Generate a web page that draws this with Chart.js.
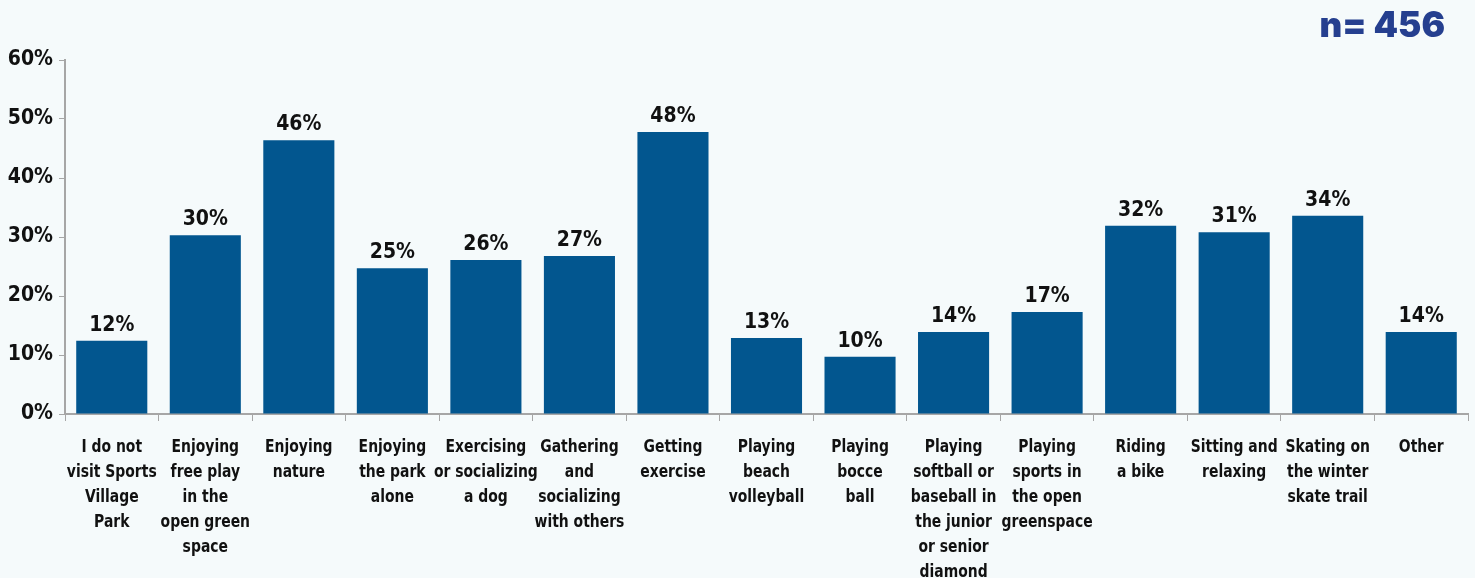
<!DOCTYPE html>
<html>
<head>
<meta charset="utf-8">
<script src="https://cdn.jsdelivr.net/npm/chart.js@4.4.1/dist/chart.umd.min.js"></script>
<style>
  html, body { margin: 0; padding: 0; background: #F5FAFB; }
  #wrap { width: 1475px; height: 578px; position: relative; }
</style>
</head>
<body>
<div id="wrap"><canvas id="chart" width="1475" height="578"></canvas></div>
<script>
// Activities at Sports Village Park (share of respondents, %)
const categories = [
  ['I do not', 'visit Sports', 'Village', 'Park'],
  ['Enjoying', 'free play', 'in the', 'open green', 'space'],
  ['Enjoying', 'nature'],
  ['Enjoying', 'the park', 'alone'],
  ['Exercising', 'or socializing', 'a dog'],
  ['Gathering', 'and', 'socializing', 'with others'],
  ['Getting', 'exercise'],
  ['Playing', 'beach', 'volleyball'],
  ['Playing', 'bocce', 'ball'],
  ['Playing', 'softball or', 'baseball in', 'the junior', 'or senior', 'diamond'],
  ['Playing', 'sports in', 'the open', 'greenspace'],
  ['Riding', 'a bike'],
  ['Sitting and', 'relaxing'],
  ['Skating on', 'the winter', 'skate trail'],
  ['Other']
];
const shares = [12.4, 30.3, 46.4, 24.7, 26.1, 26.8, 47.8, 12.9, 9.7, 13.9, 17.3, 31.9, 30.8, 33.6, 13.9];
const yTicks = [0, 10, 20, 30, 40, 50, 60];
const sampleSize = 'n= 456';

const FONT = '"DejaVu Sans Condensed", "DejaVu Sans", sans-serif';
const TEXT = '#111111';

// value labels above bars, narrow category labels under the axis, sample size in the corner
const annotations = {
  id: 'annotations',
  afterDatasetsDraw(chart) {
    const ctx = chart.ctx;
    const meta = chart.getDatasetMeta(0);
    ctx.save();
    ctx.font = 'bold 21px ' + FONT;
    ctx.fillStyle = TEXT;
    ctx.textAlign = 'center';
    ctx.textBaseline = 'alphabetic';
    meta.data.forEach((bar, i) => {
      ctx.fillText(Math.round(shares[i]) + '%', bar.x, bar.y - 10);
    });
    ctx.restore();
  },
  afterDraw(chart) {
    const ctx = chart.ctx;
    const xs = chart.scales.x;
    ctx.save();
    ctx.font = 'bold 18px ' + FONT;
    ctx.fillStyle = TEXT;
    ctx.textAlign = 'center';
    ctx.textBaseline = 'alphabetic';
    const squeeze = 0.86;
    categories.forEach((lines, i) => {
      const cx = xs.getPixelForTick(i);
      lines.forEach((line, k) => {
        ctx.save();
        ctx.translate(cx, xs.top + 38 + k * 25);
        ctx.scale(squeeze, 1);
        ctx.fillText(line, 0, 0);
        ctx.restore();
      });
    });
    ctx.font = '900 35px Inter, "DejaVu Sans", sans-serif';
    ctx.fillStyle = '#253F8F';
    ctx.textAlign = 'right';
    ctx.fillText(sampleSize, chart.width - 30, 37);
    ctx.restore();
  }
};

new Chart(document.getElementById('chart'), {
  type: 'bar',
  data: {
    labels: categories.map(l => l.join(' ')),
    datasets: [{
      data: shares,
      backgroundColor: '#02568F',
      borderWidth: 0,
      barPercentage: 0.76,
      categoryPercentage: 1.0
    }]
  },
  options: {
    responsive: false,
    animation: false,
    devicePixelRatio: 1,
    layout: { padding: { left: 0, right: 7, top: 60, bottom: 0 } },
    plugins: {
      legend: { display: false },
      tooltip: { enabled: false },
      title: { display: false }
    },
    scales: {
      x: {
        afterFit(scale) { scale.height = 164; },
        grid: {
          display: true,
          drawOnChartArea: false,
          drawTicks: true,
          tickLength: 7,
          color: '#A6A6A6',
          offset: true
        },
        border: { display: true, color: '#A6A6A6', width: 2 },
        ticks: { display: false, autoSkip: false }
      },
      y: {
        min: 0,
        max: 60,
        afterBuildTicks(scale) { scale.ticks = yTicks.map(v => ({ value: v })); },
        afterFit(scale) { scale.width = 65; },
        grid: {
          display: true,
          drawOnChartArea: false,
          drawTicks: true,
          tickLength: 6,
          color: '#A6A6A6'
        },
        border: { display: true, color: '#A6A6A6', width: 2 },
        ticks: {
          color: TEXT,
          padding: 6,
          font: { family: FONT, size: 21, weight: 'bold' },
          callback: v => v + '%'
        }
      }
    }
  },
  plugins: [annotations]
});
</script>
</body>
</html>
